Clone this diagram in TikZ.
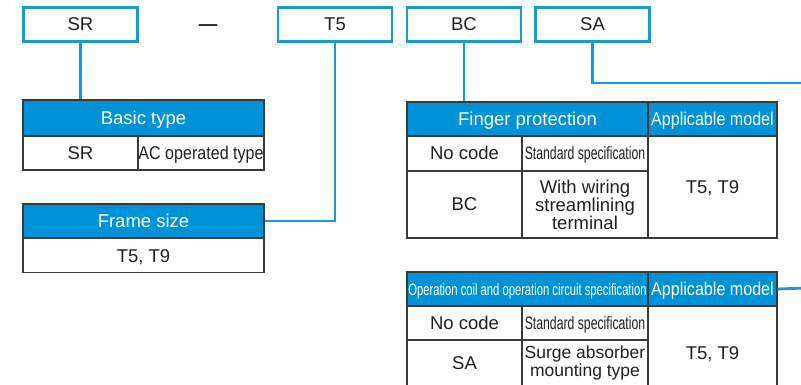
\documentclass[tikz,border=0pt]{standalone}
\usepackage{fontspec}
\setmainfont{Liberation Sans}
\newfontfamily\condfont[FakeStretch=0.87]{Liberation Sans}
\newfontfamily\narrowfont[FakeStretch=0.68]{Liberation Sans}
\usetikzlibrary{calc}
\newcommand{\txtbig}{\fontsize{18.5}{18}\selectfont}
\definecolor{codeblue}{RGB}{27,152,214}
\definecolor{headblue}{RGB}{0,146,215}
\definecolor{gridgray}{RGB}{58,58,58}
\definecolor{inkgray}{RGB}{35,31,32}
\tikzset{
  codebox/.style={draw=codeblue,line width=2.4pt,fill=white,minimum width=114pt,
                  minimum height=34pt,inner sep=0pt,font=\txtbig,text=inkgray},
  link/.style={draw=codeblue,line width=2.8pt},
  cell/.style={draw=gridgray,line width=1.1pt,fill=white,inner sep=0pt,
               align=center,font=\txtbig,text=inkgray},
  oneline/.style={text height=13pt,text depth=0pt},
  head/.style={cell,oneline,fill=headblue,text=white},
  narrow/.style={font=\narrowfont\fontsize{18}{18}\selectfont},
  cond/.style={font=\condfont\fontsize{18.5}{18}\selectfont},
}

\begin{document}
\begin{tikzpicture}[x=1pt,y=-1pt]
  \clip (0,0) rectangle (801,385);
  \fill[white] (0,0) rectangle (801,385);

  % code boxes
  \node[codebox] (srcode) at (80.5,24.5) {SR};
  \node[font=\txtbig\bfseries,text=inkgray] (dashmark) at (208,28) {—};
  \node[codebox] (t5code) at (335,24.5) {T5};
  \node[codebox] (bccode) at (464,24.5) {BC};
  \node[codebox] (sacode) at (592.5,24.5) {SA};

  % basic type
  \node[head,minimum width=241pt,minimum height=36pt] (bthead) at (143.5,118) {Basic type};
  \node[cell,oneline,minimum width=115pt,minimum height=34pt] (btsr) at (80.5,153) {SR};
  \node[cell,oneline,cond,minimum width=126pt,minimum height=34pt] (btac) at (201,153) {AC operated type};

  % frame size
  \node[head,minimum width=241pt,minimum height=34pt] (fshead) at (143.5,221) {Frame size};
  \node[cell,oneline,minimum width=241pt,minimum height=34pt] (fsrow) at (143.5,255.5) {T5, T9};

  % finger protection
  \node[head,minimum width=241pt,minimum height=34pt] (fphead) at (527.5,119) {Finger protection};
  \node[head,cond,minimum width=129pt,minimum height=34pt] (fpmodel) at (712.5,119) {Applicable model};
  \node[cell,oneline,minimum width=115pt,minimum height=35pt] (fpnone) at (464.5,153.5) {No code};
  \node[cell,oneline,narrow,minimum width=126pt,minimum height=35pt] (fpstd) at (585,153.5) {Standard specification};
  \node[cell,oneline,minimum width=115pt,minimum height=67pt] (fpbc) at (464.5,204.5) {BC};
  \node[cell,minimum width=126pt,minimum height=67pt] (fpwire) at (585,204.5)
    {With wiring\\streamlining\\terminal};
  \node[cell,oneline,minimum width=129pt,minimum height=102pt] (fpmodels) at (712.5,187) {T5, T9};

  % operation coil
  \node[head,font=\narrowfont\fontsize{16.5}{18}\selectfont,minimum width=241pt,
        minimum height=34pt] (ochead) at (527.5,289)
    {Operation coil and operation circuit specification};
  \node[head,cond,minimum width=129pt,minimum height=34pt] (ocmodel) at (712.5,289) {Applicable model};
  \node[cell,oneline,minimum width=115pt,minimum height=34pt] (ocnone) at (464.5,323) {No code};
  \node[cell,oneline,narrow,minimum width=126pt,minimum height=34pt] (ocstd) at (585,323) {Standard specification};
  \node[cell,oneline,minimum width=115pt,minimum height=46pt] (ocsa) at (464.5,363) {SA};
  \node[cell,font=\fontsize{17.5}{18}\selectfont,minimum width=126pt,minimum height=46pt] (ocsurge) at (585,363)
    {Surge absorber\\mounting type};
  \node[cell,oneline,minimum width=129pt,minimum height=94pt] (ocmodels) at (712.5,353) {T5, T9};

  % connectors
  \coordinate (saexit) at (806,83);
  \coordinate (ocexit) at (806,288);
  \draw[link] (srcode.south) -- (srcode.south |- bthead.north);
  \draw[link] (t5code.south) |- (fshead.east);
  \draw[link] (bccode.south) -- (bccode.south |- fphead.north);
  \draw[link] (sacode.south) |- (saexit);
  \draw[link] (ocmodel.east) -- (ocexit);
\end{tikzpicture}
\end{document}
